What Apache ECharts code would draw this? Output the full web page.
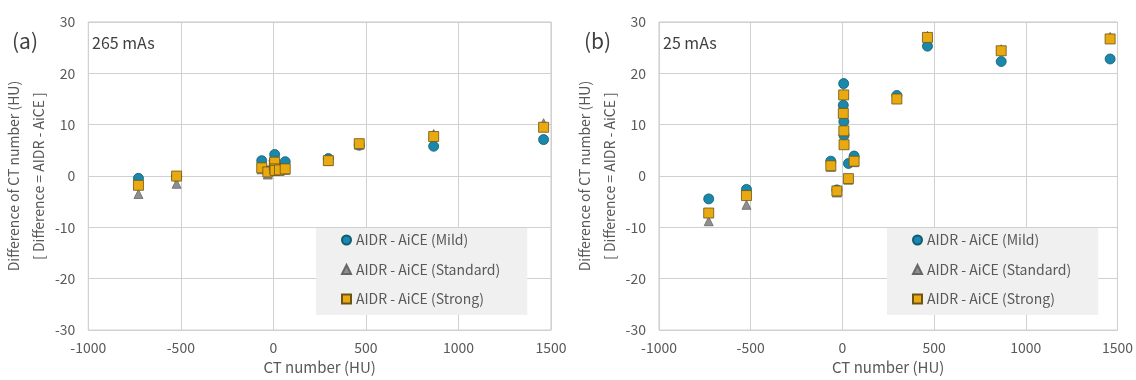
<!DOCTYPE html>
<html>
<head>
<meta charset="utf-8">
<script src="https://cdn.jsdelivr.net/npm/echarts@6/dist/echarts.min.js"></script>
<style>html,body{margin:0;padding:0;background:#fff}#c{width:1136px;height:380px}</style>
</head>
<body>
<div id="c"></div>
<script>
// CT numbers of the phantom inserts (HU)
const ctNumbers = [-729, -523, -63, -30, 5, 7, 8, 9, 33, 64, 297, 464, 866, 1460];
// (a) 265 mAs
const mild265     = [-0.45, -0.1, 3.0, 1.0, 3.0, 4.2, 2.3, 1.8, 1.5, 2.8, 3.4, 6.0, 5.8, 7.1];
const standard265 = [-3.5, -1.5, 1.3, 0.3, 2.0, 2.5, 1.2, 1.0, 1.0, 1.2, 3.0, 6.1, 8.2, 10.3];
const strong265   = [-1.8, 0.0, 1.6, 0.8, 2.2, 2.7, 1.4, 1.1, 1.2, 1.4, 3.0, 6.3, 7.7, 9.5];
// (b) 25 mAs
const mild25      = [-4.45, -2.6, 2.9, -2.7, 13.8, 18.0, 10.6, 7.9, 2.45, 3.9, 15.7, 25.3, 22.3, 22.8];
const standard25  = [-8.8, -5.6, 1.8, -3.2, 12.5, 16.0, 9.0, 6.3, -0.7, 2.7, 15.1, 27.3, 24.7, 27.1];
const strong25    = [-7.2, -3.8, 2.0, -2.9, 12.2, 15.8, 8.8, 6.1, -0.5, 2.9, 15.0, 27.0, 24.4, 26.7];

const seriesNames = ['AIDR - AiCE (Mild)', 'AIDR - AiCE (Standard)', 'AIDR - AiCE (Strong)'];
const panelLabels = ['(a)', '(b)'];
const doseLabels = ['265 mAs', '25 mAs'];

const FONT = '"Noto Sans CJK JP", "Noto Sans", sans-serif';
const TXT = '#595959';

const pair = ys => ctNumbers.map((x, i) => [x, ys[i]]);

const styles = [
  {symbol: 'circle', size: 10, color: '#1a88ab', border: '#0e5b72'},
  {symbol: 'triangle', size: 9, color: '#8f8f8f', border: '#666666'},
  {symbol: 'rect', size: 10, color: '#e8aa10', border: '#6e5412'}
];

function makeSeries(values, idx) {
  return values.map((v, k) => ({
    type: 'scatter', name: seriesNames[k], xAxisIndex: idx, yAxisIndex: idx,
    data: pair(v), symbol: styles[k].symbol, symbolSize: styles[k].size,
    itemStyle: {color: styles[k].color, borderColor: styles[k].border, borderWidth: 0.8, opacity: 1},
    z: 2 + k
  }));
}

function xAx(idx) {
  return {
    gridIndex: idx, type: 'value', min: -1000, max: 1500, interval: 500,
    name: 'CT number (HU)', nameLocation: 'middle', nameGap: 29,
    nameTextStyle: {fontFamily: FONT, fontSize: 15, color: TXT},
    axisLine: {show: false}, axisTick: {show: false},
    axisLabel: {fontFamily: FONT, fontSize: 14, color: TXT, margin: 11, formatter: v => String(v)},
    splitLine: {show: true, lineStyle: {color: '#d0d0d0', width: 1}}
  };
}
function yAx(idx) {
  return {
    gridIndex: idx, type: 'value', min: -30, max: 30, interval: 10,
    name: 'Difference of CT number (HU)\n[ Difference = AIDR - AiCE ]',
    nameLocation: 'middle', nameGap: 33,
    nameTextStyle: {fontFamily: FONT, fontSize: 14, color: TXT, lineHeight: 25},
    axisLine: {show: false}, axisTick: {show: false},
    axisLabel: {fontFamily: FONT, fontSize: 14, color: TXT, margin: 13},
    splitLine: {show: true, lineStyle: {color: '#d0d0d0', width: 1}}
  };
}
function legend(left) {
  return {
    orient: 'vertical', left: left, top: 228, data: seriesNames,
    backgroundColor: '#f0f0f0', padding: [4, 27, 8, 25],
    itemWidth: 9, itemHeight: 9, itemGap: 13.5,
    textStyle: {fontFamily: FONT, fontSize: 14, color: TXT, lineHeight: 16},
    selectedMode: false
  };
}

const chart = echarts.init(document.getElementById('c'), null, {renderer: 'canvas'});
chart.setOption({
  animation: false,
  backgroundColor: '#ffffff',
  grid: [
    {left: 88, right: 585, top: 22, bottom: 48, show: true, borderColor: '#c8c8c8', borderWidth: 1},
    {left: 659, right: 14, top: 22, bottom: 48, show: true, borderColor: '#c8c8c8', borderWidth: 1}
  ],
  xAxis: [xAx(0), xAx(1)],
  yAxis: [yAx(0), yAx(1)],
  legend: [legend(316), legend(887)],
  graphic: [
    {type: 'text', left: 12, top: 31, style: {text: panelLabels[0], fontFamily: FONT, fontSize: 21, fill: '#404040'}},
    {type: 'text', left: 584, top: 31, style: {text: panelLabels[1], fontFamily: FONT, fontSize: 21, fill: '#404040'}},
    {type: 'text', left: 92, top: 35, style: {text: doseLabels[0], fontFamily: FONT, fontSize: 16, fill: '#404040'}},
    {type: 'text', left: 663, top: 35, style: {text: doseLabels[1], fontFamily: FONT, fontSize: 16, fill: '#404040'}}
  ],
  series: [
    ...makeSeries([mild265, standard265, strong265], 0),
    ...makeSeries([mild25, standard25, strong25], 1)
  ]
});
</script>
</body>
</html>
